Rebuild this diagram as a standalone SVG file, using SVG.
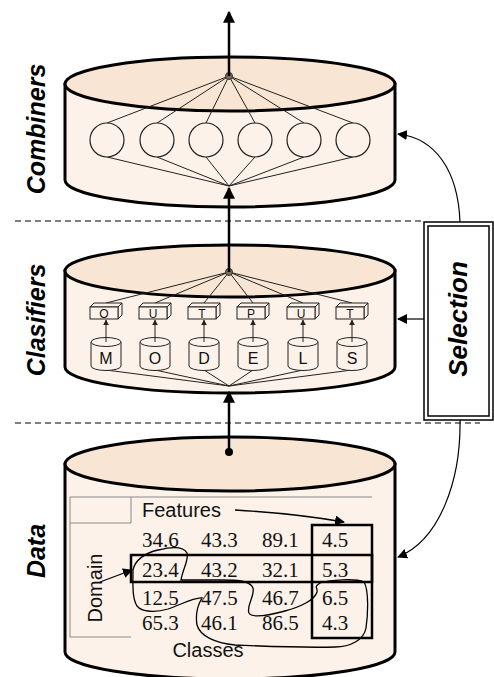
<svg xmlns="http://www.w3.org/2000/svg" width="494" height="677" viewBox="0 0 494 677">
<defs>
<style>
.body{fill:#fcf2e9;stroke:#000;stroke-width:3}
.top{fill:#f8e5d3;stroke:#000;stroke-width:3}
.thin{fill:none;stroke:#222;stroke-width:1}
.mid{fill:none;stroke:#000;stroke-width:1.3}
.thick{fill:none;stroke:#000;stroke-width:2.5}
.dash{fill:none;stroke:#555;stroke-width:1.5;stroke-dasharray:6 4}
.lbl{font-family:"Liberation Sans",Arial,sans-serif;font-weight:bold;font-style:italic;fill:#000}
.sans{font-family:"Liberation Sans",Arial,sans-serif;fill:#111}
.num{font-family:"Liberation Serif","Times New Roman",serif;font-size:21px;fill:#111}
.grid{fill:none;stroke:#888;stroke-width:1}
.box{fill:#fcf2e9;stroke:#222;stroke-width:1}
.node{fill:#7a6a5a;stroke:#333;stroke-width:1}
</style>
<marker id="ah" viewBox="0 0 10 10" refX="9" refY="5" markerWidth="10" markerHeight="10" markerUnits="userSpaceOnUse" orient="auto">
<path d="M0,0 L10,5 L0,10 Z" fill="#000"/>
</marker>
<marker id="ahb" viewBox="0 0 10 10" refX="9" refY="5" markerWidth="14" markerHeight="12" markerUnits="userSpaceOnUse" orient="auto">
<path d="M0,0 L10,5 L0,10 Z" fill="#000"/>
</marker>
<marker id="ahs" viewBox="0 0 10 10" refX="9" refY="5" markerWidth="6" markerHeight="6" markerUnits="userSpaceOnUse" orient="auto">
<path d="M0,0 L10,5 L0,10 Z" fill="#222"/>
</marker>
</defs>

<g id="separators">
<line class="dash" x1="15" y1="221" x2="423" y2="221"/>
<line class="dash" x1="15" y1="423" x2="480" y2="423"/>
</g>

<g id="combiners">
<path class="body" d="M65,84 L65,180 A165,27 0 0 0 395,180 L395,84 Z"/>
<ellipse class="top" cx="230" cy="84" rx="165" ry="27"/>
<g class="thin">
<line x1="229" y1="76" x2="107" y2="123"/><line x1="229" y1="76" x2="157" y2="123"/><line x1="229" y1="76" x2="206" y2="123"/><line x1="229" y1="76" x2="255" y2="123"/><line x1="229" y1="76" x2="304" y2="123"/><line x1="229" y1="76" x2="353" y2="123"/>
<line x1="229" y1="186" x2="107" y2="157"/><line x1="229" y1="186" x2="157" y2="157"/><line x1="229" y1="186" x2="206" y2="157"/><line x1="229" y1="186" x2="255" y2="157"/><line x1="229" y1="186" x2="304" y2="157"/><line x1="229" y1="186" x2="353" y2="157"/>
</g>
<g fill="#fcf2e9" stroke="#222" stroke-width="1.2">
<circle cx="107" cy="140" r="17"/><circle cx="157" cy="140" r="17"/><circle cx="206" cy="140" r="17"/><circle cx="255" cy="140" r="17"/><circle cx="304" cy="140" r="17"/><circle cx="353" cy="140" r="17"/>
</g>
<circle class="node" cx="229" cy="76" r="3.5"/>
<text class="lbl" font-size="25" transform="translate(45,129) rotate(-90)" text-anchor="middle">Combiners</text>
</g>

<g id="classifiers">
<path class="body" d="M65,271 L65,367 A165,26 0 0 0 395,367 L395,271 Z"/>
<ellipse class="top" cx="230" cy="271" rx="165" ry="26"/>
<g class="thin">
<line x1="229" y1="272" x2="106" y2="303"/><line x1="229" y1="272" x2="155" y2="303"/><line x1="229" y1="272" x2="204" y2="303"/><line x1="229" y1="272" x2="253" y2="303"/><line x1="229" y1="272" x2="303" y2="303"/><line x1="229" y1="272" x2="352" y2="303"/>
<line x1="229" y1="386" x2="106" y2="370"/><line x1="229" y1="386" x2="155" y2="370"/><line x1="229" y1="386" x2="204" y2="370"/><line x1="229" y1="386" x2="253" y2="370"/><line x1="229" y1="386" x2="303" y2="370"/><line x1="229" y1="386" x2="352" y2="370"/>
</g>
<circle class="node" cx="229" cy="272" r="3.5"/>
<text class="lbl" font-size="25" transform="translate(45,320) rotate(-90)" text-anchor="middle">Clasifiers</text>
</g>

<g id="outputs">
<g id="out-o"><path class="box" d="M90,307 L94,303 L122,303 L118,307 Z"/><path class="box" d="M118,307 L122,303 L122,315 L118,319 Z"/><rect class="box" x="90" y="307" width="28" height="12"/><text class="sans" font-size="12" x="104" y="318" text-anchor="middle">O</text></g>
<g id="out-u"><path class="box" d="M139,307 L143,303 L171,303 L167,307 Z"/><path class="box" d="M167,307 L171,303 L171,315 L167,319 Z"/><rect class="box" x="139" y="307" width="28" height="12"/><text class="sans" font-size="12" x="153" y="318" text-anchor="middle">U</text></g>
<g id="out-t"><path class="box" d="M188,307 L192,303 L220,303 L216,307 Z"/><path class="box" d="M216,307 L220,303 L220,315 L216,319 Z"/><rect class="box" x="188" y="307" width="28" height="12"/><text class="sans" font-size="12" x="202" y="318" text-anchor="middle">T</text></g>
<g id="out-p"><path class="box" d="M237,307 L241,303 L269,303 L265,307 Z"/><path class="box" d="M265,307 L269,303 L269,315 L265,319 Z"/><rect class="box" x="237" y="307" width="28" height="12"/><text class="sans" font-size="12" x="251" y="318" text-anchor="middle">P</text></g>
<g id="out-u2"><path class="box" d="M287,307 L291,303 L319,303 L315,307 Z"/><path class="box" d="M315,307 L319,303 L319,315 L315,319 Z"/><rect class="box" x="287" y="307" width="28" height="12"/><text class="sans" font-size="12" x="301" y="318" text-anchor="middle">U</text></g>
<g id="out-t2"><path class="box" d="M336,307 L340,303 L368,303 L364,307 Z"/><path class="box" d="M364,307 L368,303 L368,315 L364,319 Z"/><rect class="box" x="336" y="307" width="28" height="12"/><text class="sans" font-size="12" x="350" y="318" text-anchor="middle">T</text></g>
</g>

<g id="models">
<g id="model-m"><path class="box" d="M91,342 L91,366 A15,4.5 0 0 0 121,366 L121,342"/><ellipse class="box" cx="106" cy="342" rx="15" ry="4.5"/><text class="sans" font-size="16" x="106" y="364" text-anchor="middle">M</text></g>
<g id="model-o"><path class="box" d="M140,342 L140,366 A15,4.5 0 0 0 170,366 L170,342"/><ellipse class="box" cx="155" cy="342" rx="15" ry="4.5"/><text class="sans" font-size="16" x="155" y="364" text-anchor="middle">O</text></g>
<g id="model-d"><path class="box" d="M189,342 L189,366 A15,4.5 0 0 0 219,366 L219,342"/><ellipse class="box" cx="204" cy="342" rx="15" ry="4.5"/><text class="sans" font-size="16" x="204" y="364" text-anchor="middle">D</text></g>
<g id="model-e"><path class="box" d="M238,342 L238,366 A15,4.5 0 0 0 268,366 L268,342"/><ellipse class="box" cx="253" cy="342" rx="15" ry="4.5"/><text class="sans" font-size="16" x="253" y="364" text-anchor="middle">E</text></g>
<g id="model-l"><path class="box" d="M288,342 L288,366 A15,4.5 0 0 0 318,366 L318,342"/><ellipse class="box" cx="303" cy="342" rx="15" ry="4.5"/><text class="sans" font-size="16" x="303" y="364" text-anchor="middle">L</text></g>
<g id="model-s"><path class="box" d="M337,342 L337,366 A15,4.5 0 0 0 367,366 L367,342"/><ellipse class="box" cx="352" cy="342" rx="15" ry="4.5"/><text class="sans" font-size="16" x="352" y="364" text-anchor="middle">S</text></g>
</g>

<g id="data">
<path class="body" d="M65,464 L65,652 A165,27 0 0 0 395,652 L395,464 Z"/>
<ellipse class="top" cx="230" cy="464" rx="165" ry="27"/>
<circle cx="229" cy="452" r="4" fill="#000"/>
<text class="lbl" font-size="25" transform="translate(45,551) rotate(-90)" text-anchor="middle">Data</text>
<g class="grid">
<path d="M70,637 L70,497 L372,497"/>
<path d="M70,523 L131,523 L131,497"/>
<line x1="70" y1="637" x2="131" y2="637"/>
</g>
<text class="sans" font-size="20" x="142" y="517">Features</text>
<text class="sans" font-size="20" transform="translate(102,588) rotate(-90)" text-anchor="middle">Domain</text>
<text class="sans" font-size="20" x="208" y="657" text-anchor="middle">Classes</text>
<g class="num">
<text x="142" y="547">34.6</text><text x="201" y="547">43.3</text><text x="262" y="547">89.1</text><text x="322" y="547">4.5</text>
<text x="142" y="577">23.4</text><text x="201" y="577">43.2</text><text x="262" y="577">32.1</text><text x="322" y="577">5.3</text>
<text x="142" y="605">12.5</text><text x="201" y="605">47.5</text><text x="262" y="605">46.7</text><text x="322" y="605">6.5</text>
<text x="142" y="630">65.3</text><text x="201" y="630">46.1</text><text x="262" y="630">86.5</text><text x="322" y="630">4.3</text>
</g>
<g class="thick">
<rect x="312" y="525" width="60" height="113"/>
<rect x="131" y="555" width="241" height="27"/>
</g>
<path class="mid" d="M133,570 C135,560 145,553 158,550 C170,547 183,545 187,553 C189,560 183,568 181,580 L220,580 C235,580 250,580 253,588 C255,596 246,606 249,613 C252,619 270,615 285,611 C300,607 315,600 317,592 C318,587 313,588 320,583 C330,580 355,578 364,582 C369,590 368,615 366,628 C364,640 350,647 335,647 C300,648 260,646 235,645 C215,643 200,636 197,625 C195,613 199,603 202,598 C195,597 180,605 168,609 C155,613 142,612 137,606 C132,598 133,585 133,570"/>
</g>

<g id="selection">
<rect x="424" y="222" width="69" height="198" fill="#fff" stroke="#000" stroke-width="1.5"/>
<rect x="428" y="226" width="61" height="190" fill="none" stroke="#000" stroke-width="1.5"/>
<text class="lbl" font-size="26" transform="translate(467,319) rotate(-90)" text-anchor="middle">Selection</text>
</g>

<g id="connectors">
<line class="thick" x1="229" y1="76" x2="229" y2="12" marker-end="url(#ahb)"/>
<line class="thick" x1="229" y1="272" x2="229" y2="188" marker-end="url(#ahb)"/>
<line class="thick" x1="229" y1="452" x2="229" y2="392" marker-end="url(#ahb)"/>
<path fill="none" stroke="#000" stroke-width="1.2" d="M460,222 C458,170 435,138 398,134" marker-end="url(#ah)"/>
<line stroke="#000" stroke-width="1.2" x1="424" y1="319" x2="398" y2="319" marker-end="url(#ah)"/>
<path fill="none" stroke="#000" stroke-width="1.2" d="M460,420 C461,480 440,540 398,557" marker-end="url(#ah)"/>
<line class="thin" x1="106" y1="342" x2="106" y2="320" marker-end="url(#ahs)"/>
<line class="thin" x1="155" y1="342" x2="155" y2="320" marker-end="url(#ahs)"/>
<line class="thin" x1="204" y1="342" x2="204" y2="320" marker-end="url(#ahs)"/>
<line class="thin" x1="253" y1="342" x2="253" y2="320" marker-end="url(#ahs)"/>
<line class="thin" x1="303" y1="342" x2="303" y2="320" marker-end="url(#ahs)"/>
<line class="thin" x1="352" y1="342" x2="352" y2="320" marker-end="url(#ahs)"/>
<path fill="none" stroke="#000" stroke-width="1.3" d="M235,510 C270,512 310,516 344,522" marker-end="url(#ah)"/>
<line stroke="#000" stroke-width="1.3" x1="100" y1="582" x2="132" y2="570" marker-end="url(#ah)"/>
</g>
</svg>
